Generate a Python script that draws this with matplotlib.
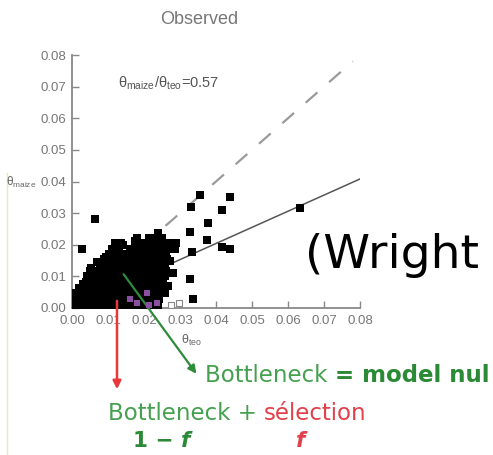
import matplotlib.pyplot as plt

plt.rcParams['font.family'] = ['Liberation Sans', 'DejaVu Sans']
plt.rcParams['mathtext.fontset'] = 'custom'
plt.rcParams['mathtext.rm'] = 'Liberation Sans'

# Diversity per locus: teosinte (x) against maize (y)
cloud_x = [
    .0010, .0027, .0045, .0062, .0080, .0098, .0115, .0133, .0150, .0168, .0185, .0203, .0221, .0240,
    .0012, .0030, .0048, .0065, .0083, .0100, .0118, .0136, .0153, .0171, .0188, .0206, .0224, .0243,
    .0010, .0028, .0046, .0063, .0081, .0099, .0116, .0134, .0152, .0169, .0187, .0205, .0223, .0242, .0258,
    .0020, .0038, .0056, .0074, .0092, .0110, .0128, .0146, .0163, .0181, .0199, .0217, .0235, .0252,
    .0038, .0055, .0073, .0091, .0108, .0126, .0144, .0162, .0180, .0198, .0216, .0234, .0252,
    .0042, .0060, .0078, .0096, .0114, .0132, .0150, .0168, .0186, .0204, .0222, .0240, .0258,
    .0050, .0068, .0086, .0104, .0122, .0140, .0158, .0176, .0194, .0212, .0230, .0248, .0262,
    .0078, .0096, .0114, .0132, .0150, .0168, .0186, .0204, .0222, .0240, .0258,
    .0088, .0106, .0124, .0142, .0160, .0178, .0196, .0214, .0232, .0250, .0265,
    .0102, .0120, .0138, .0156, .0174, .0192, .0210, .0228, .0246, .0262,
    .0112, .0130, .0160, .0178, .0196, .0214, .0232, .0250, .0268, .0286,
    .0120, .0136, .0195, .0213, .0231, .0249, .0270, .0290,
    .0215, .0232, .0250,
    .0238,
]
cloud_y = (
    [.0010] * 14 + [.0028] * 14 + [.0046] * 15 + [.0064] * 14 + [.0082] * 13
    + [.0100] * 13 + [.0118] * 13 + [.0136] * 11 + [.0154] * 11 + [.0172] * 10
    + [.0188] * 10 + [.0204] * 8 + [.0220] * 3 + [.0236] * 1
)

# ragged points along the edge of the cloud
edge_x = [0.0030, 0.0052, 0.0070, 0.0095, 0.0142, 0.0175, 0.0272, 0.0268, 0.0180]
edge_y = [0.0075, 0.0128, 0.0145, 0.0160, 0.0198, 0.0212, 0.0150, 0.0070, 0.0222]

outlier_x = [0.0064, 0.0028, 0.0356, 0.0440, 0.0330, 0.0417, 0.0378, 0.0328, 0.0375,
             0.0333, 0.0417, 0.0440, 0.0328, 0.0336, 0.0280, 0.0633]
outlier_y = [0.0280, 0.0186, 0.0357, 0.0350, 0.0320, 0.0310, 0.0268, 0.0240, 0.0215,
             0.0177, 0.0193, 0.0186, 0.0092, 0.0030, 0.0110, 0.0315]

purple_x = [0.0180, 0.0208, 0.0236, 0.0160, 0.0215]
purple_y = [0.0016, 0.0047, 0.0016, 0.0030, 0.0010]

hollow_x = [0.0297, 0.0275]
hollow_y = [0.0016, 0.0010]

ticks = [0.00, 0.01, 0.02, 0.03, 0.04, 0.05, 0.06, 0.07, 0.08]
fit_slope = 0.51
ratio = 0.57

fig = plt.figure(figsize=(4.93, 4.55), dpi=100)
ax = fig.add_axes([72 / 493, 1 - 308 / 455, 288 / 493, 253 / 455])

ax.plot([0, 0.078], [0, 0.078], color='#9a9a9a', lw=1.6, ls=(0, (7, 7)), zorder=1)
ax.plot([0, 0.08], [0, fit_slope * 0.08], color='#555555', lw=1.1, zorder=1)

ax.scatter(cloud_x, cloud_y, marker='s', s=28, color='black', linewidths=0, zorder=3)
ax.scatter(edge_x, edge_y, marker='s', s=28, color='black', linewidths=0, zorder=3)
ax.scatter(outlier_x, outlier_y, marker='s', s=28, color='black', linewidths=0, zorder=3)
ax.scatter(purple_x, purple_y, marker='s', s=22, color='#8a4fa0', linewidths=0, zorder=4)
ax.scatter(hollow_x, hollow_y, marker='s', s=20, facecolor='white', edgecolor='#888888',
           linewidths=0.8, zorder=4)

ax.set_xlim(0, 0.08)
ax.set_ylim(0, 0.08)
ax.set_xticks(ticks)
ax.set_yticks(ticks)
ax.set_xticklabels([f'{t:.2f}' for t in ticks])
ax.set_yticklabels([f'{t:.2f}' for t in ticks])
ax.tick_params(direction='in', length=5, width=1, color='#888888', labelcolor='#777777',
               labelsize=9.5)
ax.tick_params(axis='x', pad=5)
ax.tick_params(axis='y', pad=4)
for side in ['top', 'right']:
    ax.spines[side].set_visible(False)
for side in ['left', 'bottom']:
    ax.spines[side].set_color('#888888')
    ax.spines[side].set_linewidth(1.3)
ax.patch.set_alpha(0)

ax.set_title('Observed', color='#777777', fontsize=13, x=0.44, y=1.0, pad=22)
ax.text(0.16, 0.89, f'θ$_{{\\rm maize}}$/θ$_{{\\rm teo}}$={ratio}', transform=ax.transAxes,
        fontsize=10.5, color='#555555', va='center')
fig.text(6 / 493, 1 - 182 / 455, 'θ$_{\\rm maize}$', fontsize=8.5, color='#666666', va='center')
fig.text(181 / 493, 1 - 340 / 455, 'θ$_{\\rm teo}$', fontsize=9, color='#666666', va='center')

# thin margin rule on the left
fig.add_artist(plt.Line2D([7 / 493, 7 / 493], [0, 1 - 173 / 455], color='#e6ecb4', lw=1))

# arrows to the annotations
fig_px = 'figure pixels'
ax.annotate('', xy=(117, 455 - 392), xytext=(117, 455 - 298), xycoords=fig_px, textcoords=fig_px,
            arrowprops=dict(arrowstyle='-|>', color='#e8383d', lw=1.8, mutation_scale=12))
ax.annotate('', xy=(198, 455 - 376), xytext=(122, 455 - 272), xycoords=fig_px, textcoords=fig_px,
            arrowprops=dict(arrowstyle='-|>', color='#2e8b3a', lw=1.6, mutation_scale=12))

green = '#45a04f'
dark_green = '#2a8a35'
red = '#e2404a'
big = 16.5

fig.text(305 / 493, 1 - 268 / 455, '(Wright', fontsize=34, color='black',
         family='DejaVu Sans', va='baseline')

t1 = fig.text(205 / 493, 1 - 382 / 455, 'Bottleneck ', fontsize=big, color=green,
              family='DejaVu Sans', va='baseline')
ax.annotate('= model nul', xy=(1, 0), xycoords=t1, va='bottom', ha='left', fontsize=big,
            color=dark_green, family='DejaVu Sans', fontweight='bold', annotation_clip=False)

t2 = fig.text(108 / 493, 1 - 420 / 455, 'Bottleneck + ', fontsize=big, color=green,
              family='DejaVu Sans', va='baseline')
ax.annotate('sélection', xy=(1, 0), xycoords=t2, va='bottom', ha='left', fontsize=big,
            color=red, family='DejaVu Sans', annotation_clip=False)

t3 = fig.text(133 / 493, 1 - 447 / 455, '1 − ', fontsize=15.5, color=dark_green,
              family='DejaVu Sans', fontweight='bold', va='baseline')
ax.annotate('f', xy=(1, 0), xycoords=t3, va='bottom', ha='left', fontsize=15.5,
            color=dark_green, family='DejaVu Sans', fontweight='bold', style='italic',
            annotation_clip=False)
fig.text(296 / 493, 1 - 447 / 455, 'f', fontsize=15.5, color=red, family='DejaVu Sans',
         fontweight='bold', style='italic', va='baseline')

fig.savefig('out.png', dpi=100)
